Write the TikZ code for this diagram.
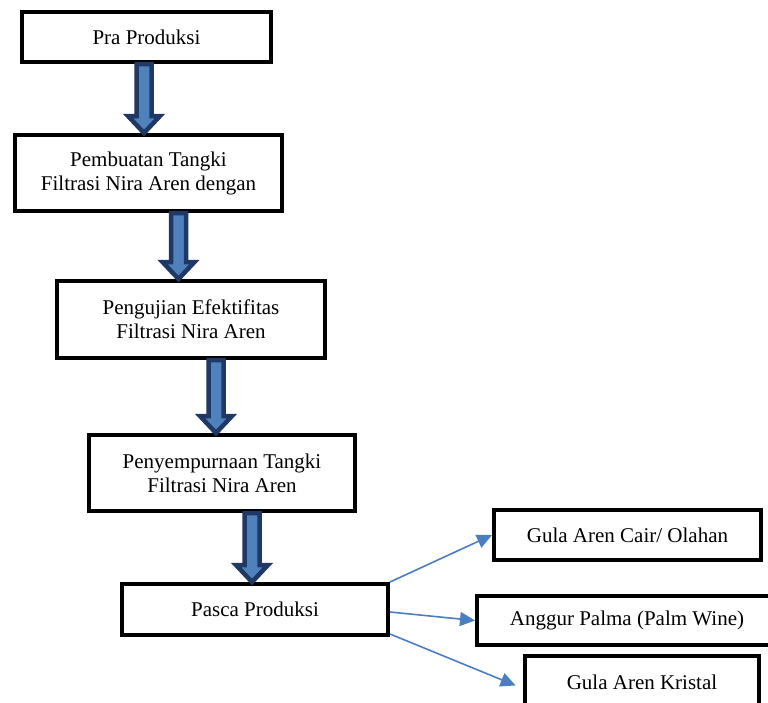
\documentclass[tikz,border=0pt]{standalone}
\usepackage{fontspec}
\setmainfont{Liberation Serif}
\usetikzlibrary{arrows.meta,calc}
\definecolor{navy}{HTML}{1F3864}
\definecolor{steel}{HTML}{4F81BD}
\definecolor{branchblue}{HTML}{4A7EC1}
\tikzset{
  box/.style={draw,line width=4pt,fill=white,align=center,inner sep=0pt,
    font=\fontsize{21}{24}\selectfont},
  fat/.style={draw=navy,fill=steel,line width=4.5pt,line join=miter},
  branch/.style={draw=branchblue,line width=1.6pt,-{Triangle[length=15pt,width=14pt]}}
}
% block arrow from a start point straight down to the y of a target
\newcommand{\fatarrow}[2]{%
  \path[fat] let \p1=(#1), \p2=(#2) in
    (\x1-7.5pt,\y1) -- (\x1-7.5pt,\y2+17pt) -- (\x1-16pt,\y2+17pt) -- (\x1,\y2)
    -- (\x1+16pt,\y2+17pt) -- (\x1+7.5pt,\y2+17pt) -- (\x1+7.5pt,\y1) -- cycle;}
\begin{document}
\begin{tikzpicture}[x=1pt,y=-1pt]
  \clip (0,0) rectangle (768,702);
  \fill[white] (0,0) rectangle (768,702);
  \node [box,minimum width=249pt,minimum height=50pt] (pra) at (146.5,37) {Pra Produksi};
  \node [box,minimum width=267pt,minimum height=76pt] (buat) at (148.5,173) {Pembuatan Tangki\\Filtrasi Nira Aren dengan};
  \node [box,minimum width=268pt,minimum height=77pt] (uji) at (191,319.5) {Pengujian Efektifitas\\Filtrasi Nira Aren};
  \node [box,minimum width=266pt,minimum height=76pt] (sempurna) at (222,473) {Penyempurnaan Tangki\\Filtrasi Nira Aren};
  \node [box,minimum width=266pt,minimum height=51pt] (pasca) at (255,609.5) {Pasca Produksi};
  \node [box,minimum width=267pt,minimum height=50pt] (cair) at (627.5,535) {Gula Aren Cair/ Olahan};
  \node [box,minimum width=300pt,minimum height=49pt] (anggur) at (627,620.5) {Anggur Palma (Palm Wine)};
  \node [box,minimum width=234pt,minimum height=53pt] (kristal) at (642,682.5) {Gula Aren Kristal};
  \fatarrow{[xshift=-2.5pt]pra.south}{buat.north}
  \fatarrow{[xshift=30pt]buat.south}{uji.north}
  \fatarrow{[xshift=25pt]uji.south}{sempurna.north}
  \fatarrow{[xshift=30pt]sempurna.south}{pasca.north}
  \draw [branch] (pasca.north east) -- (cair.west);
  \draw [branch] ([yshift=-2.5pt]pasca.east) -- (anggur.west);
  \draw [branch,shorten >=8pt] ([yshift=3pt]pasca.south east) -- ([yshift=-6pt]kristal.west);
\end{tikzpicture}
\end{document}
